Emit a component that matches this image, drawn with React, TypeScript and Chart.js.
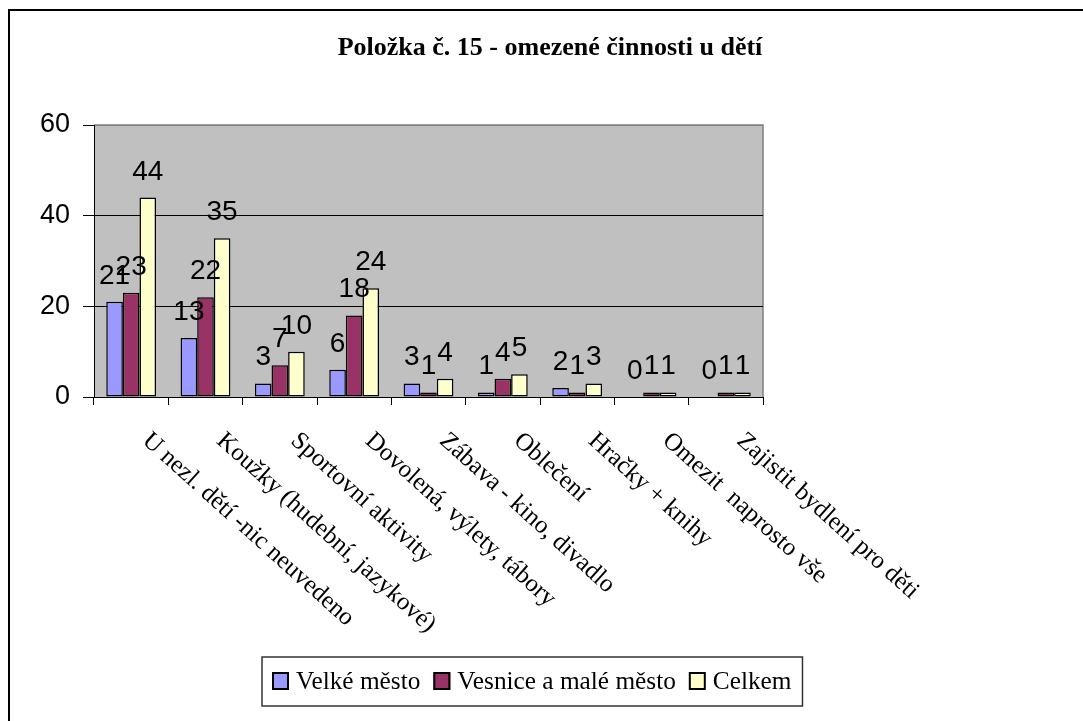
import React, { useEffect, useRef } from 'react';
import { Chart, registerables } from 'chart.js';

Chart.register(...registerables);

const TITLE = 'Položka č. 15 - omezené činnosti u dětí';
const categories = [
  'U nezl. dětí -nic neuvedeno',
  'Koužky (hudební, jazykové)',
  'Sportovní aktivity',
  'Dovolená, výlety, tábory',
  'Zábava - kino, divadlo',
  'Oblečení',
  'Hračky + knihy',
  'Omezit  naprosto vše',
  'Zajistit bydlení pro děti',
];
const seriesNames = ['Velké město', 'Vesnice a malé město', 'Celkem'];
const velkeMesto = [21, 13, 3, 6, 3, 1, 2, 0, 0];
const vesnice = [23, 22, 7, 18, 1, 4, 1, 1, 1];
const celkem = [44, 35, 10, 24, 4, 5, 3, 1, 1];
const seriesColors = ['#9999FF', '#993366', '#FFFFCC'];
const yMin = 0;
const yMax = 60;
const yStep = 20;

const SANS = '"Liberation Sans", Arial, sans-serif';
const SERIF = '"Liberation Serif", "Times New Roman", serif';

const decoPlugin = {
  id: 'deco',
  beforeDraw(chart: any) {
    const { ctx, chartArea: a } = chart;
    ctx.save();
    ctx.fillStyle = '#C0C0C0';
    ctx.fillRect(a.left, a.top, a.right - a.left, a.bottom - a.top);
    ctx.strokeStyle = '#808080';
    ctx.lineWidth = 1.5;
    ctx.beginPath();
    ctx.moveTo(a.left, a.top);
    ctx.lineTo(a.right, a.top);
    ctx.lineTo(a.right, a.bottom);
    ctx.stroke();
    ctx.restore();
  },
  afterDraw(chart: any) {
    const { ctx, chartArea: a } = chart;
    ctx.save();
    // data labels
    ctx.fillStyle = '#000';
    ctx.font = `28px ${SANS}`;
    ctx.textAlign = 'center';
    ctx.textBaseline = 'alphabetic';
    chart.data.datasets.forEach((ds: any, di: number) => {
      const meta = chart.getDatasetMeta(di);
      meta.data.forEach((bar: any, i: number) => {
        const { x, y } = bar.getProps(['x', 'y'], true);
        ctx.fillText(String(ds.data[i]), x, y - 18);
      });
    });
    // rotated category labels
    const xs = chart.scales.x;
    ctx.font = `25px ${SERIF}`;
    ctx.textAlign = 'left';
    ctx.textBaseline = 'alphabetic';
    const ang = (42 * Math.PI) / 180;
    categories.forEach((lab, i) => {
      const cx = xs.getPixelForValue(i);
      ctx.save();
      ctx.translate(cx, a.bottom + 16);
      ctx.rotate(ang);
      ctx.fillText(lab, 27, 15);
      ctx.restore();
    });
    // title
    ctx.font = `bold 26px ${SERIF}`;
    ctx.textAlign = 'center';
    ctx.textBaseline = 'alphabetic';
    ctx.fillText(TITLE, 540, 43.5);
    // legend
    ctx.font = `25.3px ${SERIF}`;
    ctx.textAlign = 'left';
    let x = 262;
    let end = x;
    chart.data.datasets.forEach((ds: any) => {
      ctx.fillStyle = ds.backgroundColor;
      ctx.fillRect(x, 661, 17, 18);
      ctx.strokeStyle = '#000';
      ctx.lineWidth = 2;
      ctx.strokeRect(x + 1, 662, 15, 16);
      ctx.fillStyle = '#000';
      ctx.fillText(ds.label, x + 24, 678);
      const w = ctx.measureText(ds.label).width;
      end = x + 24 + w;
      x = end + 13;
    });
    ctx.strokeStyle = '#333';
    ctx.lineWidth = 1.5;
    ctx.strokeRect(252, 646, end + 11 - 252, 49);
    ctx.restore();
  },
};

export default function App() {
  const ref = useRef<HTMLCanvasElement>(null);
  useEffect(() => {
    const chart = new Chart(ref.current as HTMLCanvasElement, {
      type: 'bar',
      data: {
        labels: categories,
        datasets: [velkeMesto, vesnice, celkem].map((d, i) => ({
          label: seriesNames[i],
          data: d,
          backgroundColor: seriesColors[i],
          borderColor: '#000',
          borderWidth: 1.5,
          borderSkipped: false,
          categoryPercentage: 0.67,
          barPercentage: 1,
        })),
      },
      options: {
        animation: false,
        responsive: false,
        devicePixelRatio: 1,
        layout: { padding: { top: 114, left: 14, right: 320, bottom: 314 } },
        plugins: {
          legend: { display: false },
          title: { display: false },
          tooltip: { enabled: false },
        },
        scales: {
          x: {
            ticks: { display: false },
            grid: { offset: true, drawOnChartArea: false, color: '#000', tickLength: 8 },
            border: { color: '#000', width: 1 },
            afterFit: (s: any) => { s.height = 10; },
          },
          y: {
            min: yMin,
            max: yMax,
            ticks: { stepSize: yStep, color: '#000', font: { family: SANS, size: 27 }, padding: 13 },
            grid: {
              color: (c: any) => (c.tick && c.tick.value === yMax ? '#808080' : '#000'),
              tickColor: '#000',
              tickLength: 11,
              lineWidth: 1,
            },
            border: { color: '#000', width: 1 },
            afterFit: (s: any) => { s.width = 70; },
          },
        },
      },
      plugins: [decoPlugin],
    } as any);
    return () => chart.destroy();
  }, []);
  return (
    <div
      style={{
        position: 'fixed',
        left: 8,
        top: 9,
        width: 1075,
        height: 712,
        borderTop: '2px solid #000',
        borderLeft: '2px solid #000',
        boxSizing: 'border-box',
        background: '#fff',
      }}
    >
      <canvas ref={ref} width={1073} height={710} style={{ display: 'block', width: 1073, height: 710 }} />
    </div>
  );
}
